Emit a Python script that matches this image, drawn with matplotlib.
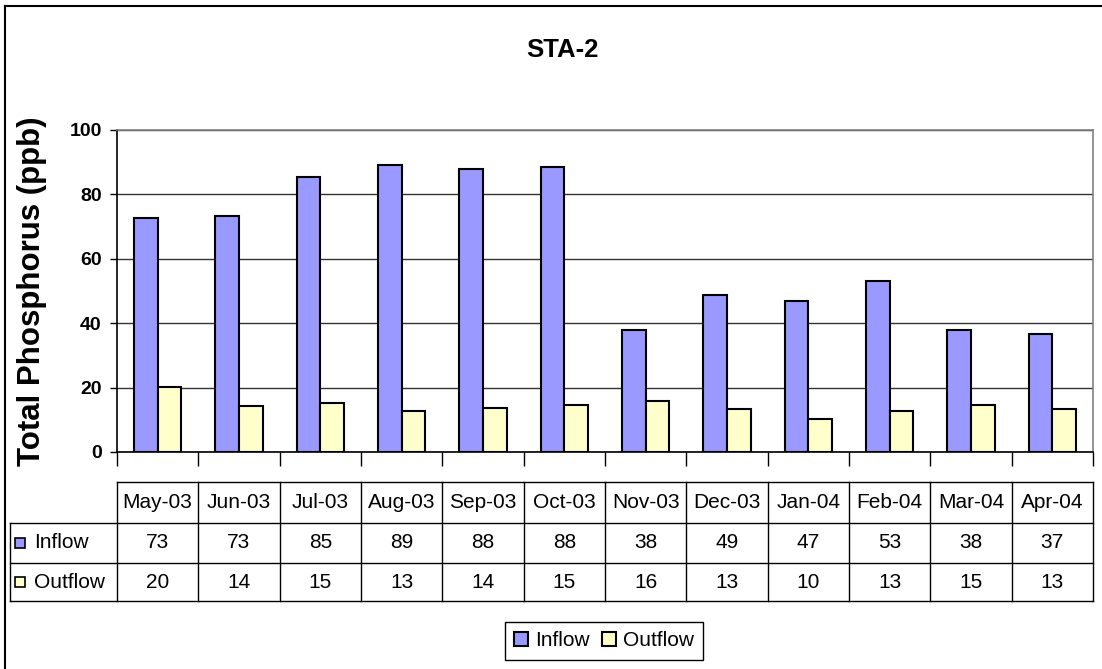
import matplotlib
matplotlib.use('Agg')
import matplotlib.pyplot as plt
import matplotlib.transforms as mtransforms
from matplotlib.lines import Line2D
from matplotlib.patches import Rectangle

plt.rcParams['font.family'] = ['Liberation Sans', 'DejaVu Sans']

# data
months = ['May-03', 'Jun-03', 'Jul-03', 'Aug-03', 'Sep-03', 'Oct-03',
          'Nov-03', 'Dec-03', 'Jan-04', 'Feb-04', 'Mar-04', 'Apr-04']
inflow = [72.8, 73.4, 85.4, 89.2, 87.9, 88.4, 37.9, 48.8, 46.9, 53.1, 37.9, 36.8]
outflow = [20.1, 14.4, 15.1, 12.7, 13.6, 14.6, 15.7, 13.3, 10.2, 12.6, 14.6, 13.3]
series_names = ['Inflow', 'Outflow']
y_ticks = [0, 20, 40, 60, 80, 100]

inflow_color = '#9999FF'
outflow_color = '#FFFFCC'

W, H = 1102, 669


def fx(px):
    return px / W


def fy(py):
    return 1 - py / H


fig = plt.figure(figsize=(W / 100, H / 100), dpi=100)

# outer chart border (cropped on right/bottom)
fig.add_artist(Line2D([fx(5), fx(5)], [fy(6), 0], color='black', lw=1.5))
fig.add_artist(Line2D([fx(5), 1], [fy(6), fy(6)], color='black', lw=1.5))

ax = fig.add_axes([fx(117), fy(452), fx(1093) - fx(117), fy(130) - fy(452)])

x = list(range(len(months)))
bw = 0.29
b1 = ax.bar([i - bw / 2 for i in x], inflow, width=bw, color=inflow_color,
            edgecolor='black', linewidth=1.5, zorder=3)
b2 = ax.bar([i + bw / 2 for i in x], outflow, width=bw, color=outflow_color,
            edgecolor='black', linewidth=1.5, zorder=3)

ax.set_xlim(-0.5, len(months) - 0.5)
ax.set_ylim(0, 100)
ax.set_yticks(y_ticks)
ax.set_yticklabels([str(v) for v in y_ticks], fontsize=14, fontweight='bold')
ax.tick_params(axis='y', direction='out', length=5, width=1, pad=6)
ax.set_xticks([i - 0.5 for i in range(len(months) + 1)])
ax.set_xticklabels([])
ax.tick_params(axis='x', direction='out', length=10, width=1)
ax.yaxis.grid(True, color='#333333', lw=1.0, zorder=0)
ax.set_axisbelow(True)

ax.spines['left'].set_color('black')
ax.spines['bottom'].set_color('black')
ax.spines['top'].set_color('#808080')
ax.spines['right'].set_color('#808080')
for s in ax.spines.values():
    s.set_linewidth(1.2)

ax.set_ylabel('Total Phosphorus (ppb)', fontsize=22.5, fontweight='bold', labelpad=16)
fig.text(fx(562), fy(50), 'STA-2', ha='center', va='center', fontsize=18.5, fontweight='bold')

# data table below the axis
blend = mtransforms.blended_transform_factory(ax.transData, fig.transFigure)
ncol = len(months)
y_top, y_h1, y_h2, y_bot = fy(482), fy(523), fy(563), fy(601)
x_left = ax.transData.inverted().transform((10, 0))[0]
lc = 'black'
lw = 1.0
fs = 15
# horizontal lines
ax.add_line(Line2D([-0.5, ncol - 0.5], [y_top, y_top], transform=blend, color=lc, lw=lw, clip_on=False))
for yy in (y_h1, y_h2, y_bot):
    ax.add_line(Line2D([x_left, ncol - 0.5], [yy, yy], transform=blend, color=lc, lw=lw, clip_on=False))
# vertical lines
for i in range(ncol + 1):
    ax.add_line(Line2D([i - 0.5, i - 0.5], [y_top, y_bot], transform=blend, color=lc, lw=lw, clip_on=False))
ax.add_line(Line2D([x_left, x_left], [y_h1, y_bot], transform=blend, color=lc, lw=lw, clip_on=False))

for i, m in enumerate(months):
    ax.text(i, (y_top + y_h1) / 2, m, transform=blend, ha='center', va='center', fontsize=fs)
    ax.text(i, (y_h1 + y_h2) / 2, '%d' % round(inflow[i]), transform=blend, ha='center', va='center', fontsize=fs)
    ax.text(i, (y_h2 + y_bot) / 2, '%d' % round(outflow[i]), transform=blend, ha='center', va='center', fontsize=fs)

# row headers with colour keys
for (y0, y1), name, col in zip([(y_h1, y_h2), (y_h2, y_bot)], series_names, [inflow_color, outflow_color]):
    yc = (y0 + y1) / 2
    fig.add_artist(Rectangle((fx(15), yc - 5 / H), 10 / W, 10 / H, facecolor=col,
                             edgecolor='black', lw=1.2, transform=fig.transFigure))
    fig.text(fx(34), yc, name, ha='left', va='center', fontsize=fs)

fig.legend([b1, b2], series_names, loc='center', bbox_to_anchor=(fx(604), fy(641)),
           ncol=2, fontsize=fs, frameon=True, fancybox=False, edgecolor='black',
           handlelength=0.65, handleheight=0.65, handletextpad=0.35, columnspacing=0.6,
           borderpad=0.45, framealpha=1)

fig.savefig('out.png', dpi=100)
